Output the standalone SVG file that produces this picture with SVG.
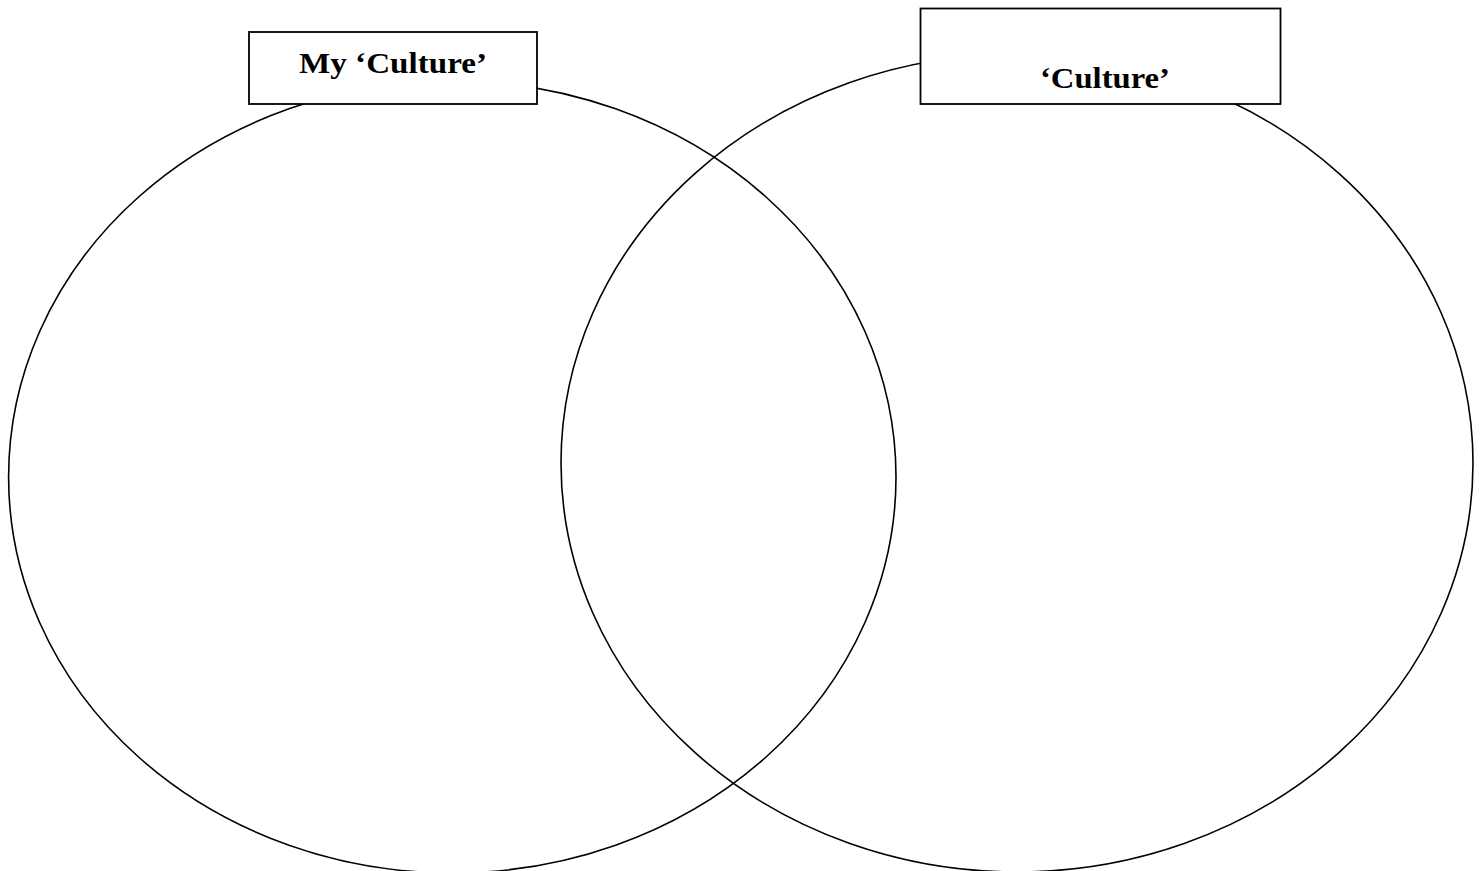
<svg xmlns="http://www.w3.org/2000/svg" width="1481" height="871" viewBox="0 0 1481 871">
<style>
.shape{fill:none;stroke:#000;stroke-width:1.6}
.box{fill:#fff;stroke:#000;stroke-width:1.8}
.lbl{font-family:"Liberation Serif","DejaVu Serif",serif;font-weight:bold;font-size:30px;fill:#000}
</style>
<rect width="1481" height="871" fill="#fff"/>
<g id="circle-left"><ellipse class="shape" cx="452.3" cy="477" rx="443.7" ry="396"/></g>
<g id="circle-right"><ellipse class="shape" cx="1017" cy="463" rx="456" ry="409"/></g>
<g id="label-left">
<rect class="box" x="249" y="32" width="288" height="72"/>
<text class="lbl" x="299" y="73" textLength="188" lengthAdjust="spacingAndGlyphs">My ‘Culture’</text>
</g>
<g id="label-right">
<rect class="box" x="920.5" y="8.5" width="360" height="95.5"/>
<text class="lbl" x="1040" y="88" textLength="130" lengthAdjust="spacingAndGlyphs">‘Culture’</text>
</g>
<g id="connectors"></g>
</svg>
